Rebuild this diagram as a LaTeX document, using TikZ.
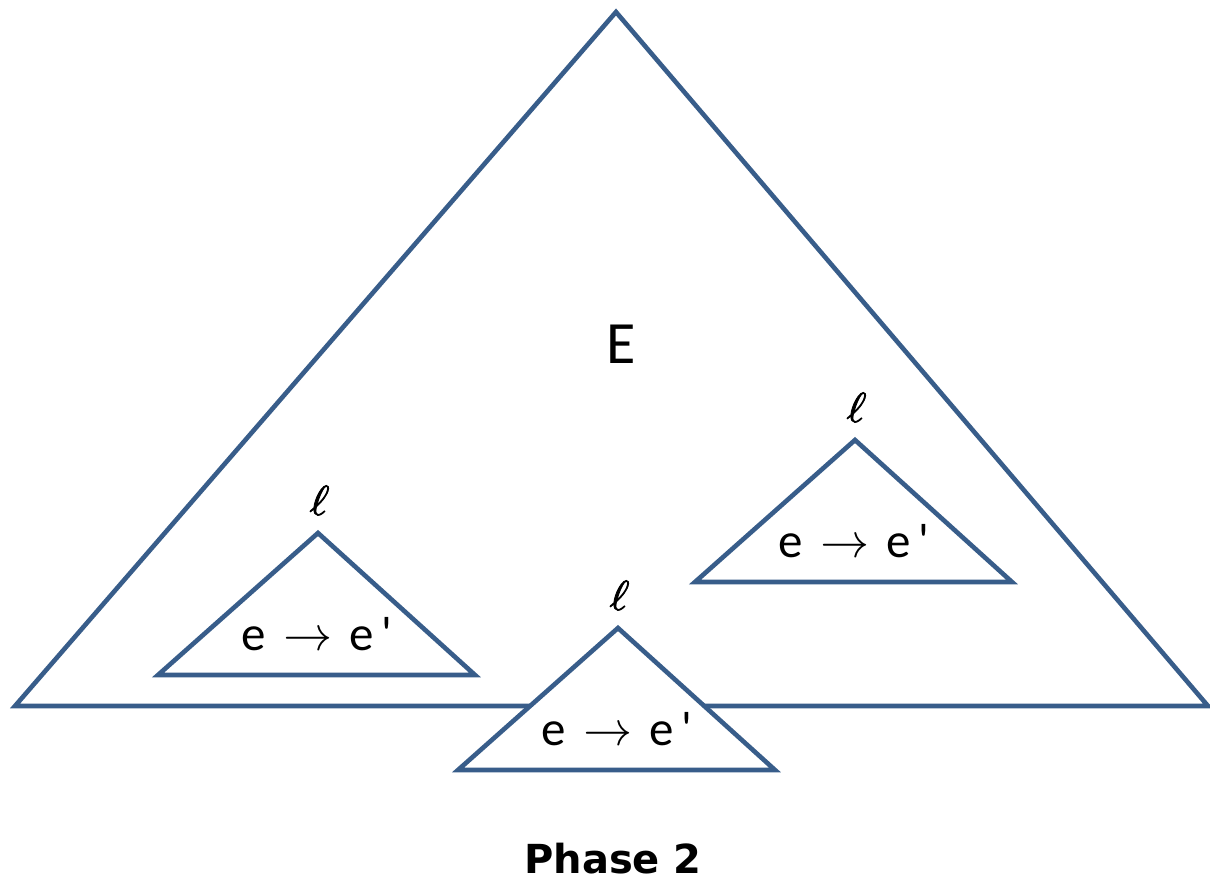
\documentclass[tikz,border=0pt]{standalone}
\usepackage{fontspec}
\setmainfont{Carlito}
\newfontfamily\rulefont{Carlito}
\newfontfamily\captionfont{DejaVu Sans}
\newfontfamily\symfont{Latin Modern Math}
\newfontfamily\ellfont{Latin Modern Math}[FakeBold=2,FakeSlant=0.1]
\definecolor{edgeblue}{RGB}{56,93,138}
\tikzset{
  tri/.style={draw=edgeblue, line width=4.6pt, fill=white},
  rule/.style={anchor=base, font=\rulefont\fontsize{49}{52}\selectfont, inner sep=0pt},
  ellmark/.style={anchor=base, font=\ellfont\fontsize{42}{46}\selectfont, inner sep=0pt},
}
\begin{document}
\begin{tikzpicture}[x=1pt, y=-1pt]
  \useasboundingbox (0,0) rectangle (1210,881);

  % outer triangle
  \coordinate (Etop) at (616,12);
  \coordinate (Eleft) at (15,706);
  \coordinate (Eright) at (1208,706);
  \draw[tri] (Etop) -- (Eleft) -- (Eright) -- cycle;
  \node[anchor=base, font=\fontsize{60}{64}\selectfont, inner sep=0pt] (Elabel) at (621,363) {E};

  % inner triangles, placed by their apex
  \foreach \nm/\ax/\ay in {L/318/533, R/855/440, M/618/628} {
    \coordinate (\nm top) at (\ax,\ay);
    \coordinate (\nm left) at (\ax-160,\ay+142);
    \coordinate (\nm right) at (\ax+157,\ay+142);
    \draw[tri] (\nm top) -- (\nm left) -- (\nm right) -- cycle;
    \node[rule] (\nm rule) at (\ax-1,\ay+117) {e\hspace{0.35em}{\symfont →}\hspace{0.35em}e\hspace{0.15em}'};
    \node[ellmark] (\nm ell) at (\ax,\ay-18) {ℓ};
  }

  \node[anchor=base, font=\captionfont\bfseries\fontsize{40}{44}\selectfont, inner sep=0pt] (caption) at (613,873) {Phase 2};
\end{tikzpicture}
\end{document}
